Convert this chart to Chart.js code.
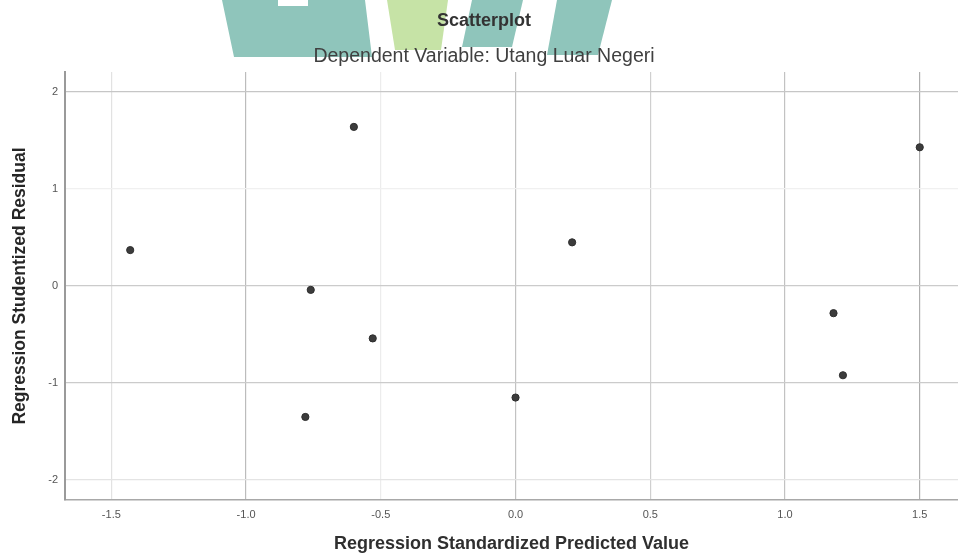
<!DOCTYPE html>
<html>
<head>
<meta charset="utf-8">
<script src="https://cdn.jsdelivr.net/npm/chart.js@4.4.1/dist/chart.umd.min.js"></script>
<style>
  html, body { margin: 0; padding: 0; background: #ffffff; }
  #wrap { position: relative; width: 958px; height: 558px; overflow: hidden; background: #ffffff; }
  .logo { position: absolute; left: 0; top: 0; width: 958px; height: 80px; }
  #c { position: absolute; left: 0; top: 0; }
</style>
</head>
<body>
<div id="wrap">
  <!-- faint logo blocks behind the heading -->
  <div class="logo" style="background:#8fc5bb; clip-path: polygon(222px 0, 278px 0, 278px 6px, 308px 6px, 308px 0, 365px 0, 372px 57px, 234px 57px);"></div>
  <div class="logo" style="background:#c6e3a6; clip-path: polygon(387px 0, 448px 0, 441px 50px, 395px 50px);"></div>
  <div class="logo" style="background:#8fc5bb; clip-path: polygon(472px 0, 523px 0, 512px 47px, 462px 47px);"></div>
  <div class="logo" style="background:#8fc5bb; clip-path: polygon(557px 0, 612px 0, 598px 55px, 547px 55px);"></div>
  <canvas id="c" width="958" height="558"></canvas>
</div>
<script>
// Regression diagnostics: standardized predicted value vs studentized residual
const predictedValues = [-1.43, -0.60, 1.50, 0.21, -0.76, -0.53, -0.78, 0.00, 1.18, 1.215];
const studentizedResiduals = [0.37, 1.64, 1.43, 0.45, -0.04, -0.54, -1.35, -1.15, -0.28, -0.92];

const xTickValues = [-1.5, -1.0, -0.5, 0.0, 0.5, 1.0, 1.5];
const xTickLabels = ['-1.5', '-1.0', '-0.5', '0.0', '0.5', '1.0', '1.5'];
const yTickValues = [2, 1, 0, -1, -2];
const yTickLabels = ['2', '1', '0', '-1', '-2'];

const FONT = "'Liberation Sans', Arial, Helvetica, sans-serif";

const points = predictedValues.map((x, i) => ({ x: x, y: studentizedResiduals[i] }));

// grid line shades per reference value
const xGridShade = { '-1.5': '#e2e2e2', '-1': '#bcbcbc', '-0.5': '#ececec', '0': '#c2c2c2', '0.5': '#cfcfcf', '1': '#c2c2c2', '1.5': '#aeaeae' };
const yGridShade = { '2': '#c6c6c6', '1': '#f0f0f0', '0': '#cbcbcb', '-1': '#cbcbcb', '-2': '#e4e4e4' };

// keep the plot area edges fixed: no extra room reserved for edge labels
function noEdgePadding(scale) {
  scale.paddingLeft = 0;
  scale.paddingRight = 0;
  scale.paddingTop = 0;
  scale.paddingBottom = 0;
}

new Chart(document.getElementById('c'), {
  type: 'scatter',
  data: {
    datasets: [{
      label: 'Utang Luar Negeri',
      data: points,
      backgroundColor: '#3c3c3c',
      borderColor: '#2e2e2e',
      borderWidth: 1,
      pointRadius: 3.6,
      pointHoverRadius: 3.6
    }]
  },
  options: {
    responsive: false,
    animation: false,
    devicePixelRatio: 1,
    layout: { autoPadding: false, padding: { left: 10, right: 0, top: 0, bottom: 0 } },
    plugins: {
      legend: { display: false },
      tooltip: { enabled: false },
      title: {
        display: true,
        text: 'Scatterplot',
        color: '#333333',
        font: { family: FONT, size: 18, weight: 'bold' },
        padding: { top: 10, bottom: 0 }
      },
      subtitle: {
        display: true,
        text: 'Dependent Variable: Utang Luar Negeri',
        color: '#404040',
        font: { family: FONT, size: 19.5 },
        padding: { top: 13, bottom: 4 }
      }
    },
    scales: {
      x: {
        type: 'linear',
        min: -1.672,
        max: 1.642,
        afterBuildTicks: (scale) => { scale.ticks = xTickValues.map(v => ({ value: v })); },
        afterFit: (scale) => { scale.height = 58; noEdgePadding(scale); },
        ticks: {
          callback: (v) => xTickLabels[xTickValues.indexOf(v)],
          color: '#555',
          font: { family: FONT, size: 11 },
          padding: 8,
          maxRotation: 0,
          autoSkip: false
        },
        grid: {
          drawTicks: false,
          color: (ctx) => (ctx.tick ? (xGridShade[String(ctx.tick.value)] || '#ddd') : '#ddd'),
          lineWidth: 1.2
        },
        border: { display: true, color: '#a8a8a8', width: 1.5 },
        title: {
          display: true,
          text: 'Regression Standardized Predicted Value',
          color: '#2f2f2f',
          font: { family: FONT, size: 18, weight: 'bold' },
          padding: { top: 0, bottom: 3 }
        }
      },
      y: {
        type: 'linear',
        min: -2.206,
        max: 2.206,
        afterBuildTicks: (scale) => { scale.ticks = yTickValues.map(v => ({ value: v })); },
        afterFit: (scale) => { scale.width = 55; noEdgePadding(scale); },
        ticks: {
          callback: (v) => yTickLabels[yTickValues.indexOf(v)],
          color: '#555',
          font: { family: FONT, size: 11 },
          padding: 7,
          autoSkip: false
        },
        grid: {
          drawTicks: false,
          color: (ctx) => (ctx.tick ? (yGridShade[String(ctx.tick.value)] || '#ddd') : '#ddd'),
          lineWidth: 1.2
        },
        border: { display: true, color: '#9a9a9a', width: 2 },
        title: {
          display: true,
          text: 'Regression Studentized Residual',
          color: '#262626',
          font: { family: FONT, size: 17.5, weight: 'bold' },
          padding: { top: 0, bottom: 0 }
        }
      }
    }
  }
});
</script>
</body>
</html>
